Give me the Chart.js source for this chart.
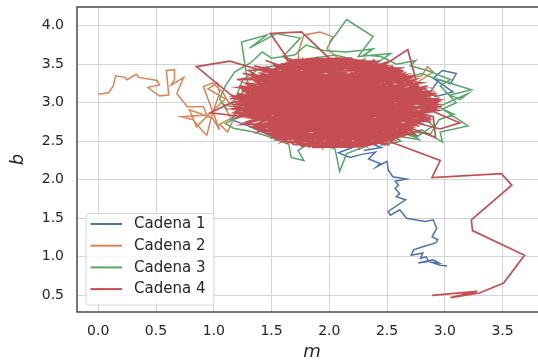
<!DOCTYPE html>
<html>
<head>
<meta charset="utf-8">
<script src="https://cdn.jsdelivr.net/npm/chart.js@4.4.1/dist/chart.umd.min.js"></script>
<style>
  html, body { margin: 0; padding: 0; background: #fff; overflow: hidden; width: 538px; height: 362px; }
  #wrap { width: 550px; height: 362px; }
</style>
</head>
<body>
<div id="wrap"><canvas id="chart" width="550" height="362"></canvas></div>
<script>
// traces: [m, b] per step
const cadena1 = [
  [3.02,0.88],[2.96,0.89],[2.88,0.93],[2.95,0.92],[2.90,0.96],[2.77,0.92],[2.86,0.94],[2.84,1.00],[2.79,0.98],[2.81,1.05],
  [2.71,1.02],[2.73,1.09],[2.81,1.13],[2.92,1.18],[2.94,1.22],[2.89,1.26],[2.93,1.37],[2.90,1.48],[2.83,1.46],[2.67,1.50],
  [2.61,1.61],[2.53,1.54],[2.51,1.59],[2.66,1.74],[2.58,1.78],[2.61,1.82],[2.57,1.89],[2.60,1.93],[2.57,1.98],[2.67,2.01],
  [2.55,2.04],[2.51,2.13],[2.50,2.24],[2.41,2.17],[2.44,2.21],[2.34,2.27],[2.40,2.36],[2.28,2.33],[2.18,2.29],[2.08,2.35],
  [2.20,2.42],[2.32,2.50],[2.25,2.62],[2.40,2.70],[2.55,2.78],[2.62,2.92],[2.75,3.05],[2.88,3.15],[2.95,3.30],[3.05,3.25],
  [3.10,3.38],[2.98,3.42],[2.90,3.32],[3.07,3.14],[2.92,3.08],[2.80,3.20],[2.70,3.10],[2.55,3.05],[2.40,2.95],[2.25,3.00],
  [2.10,2.90],[1.95,2.80],[1.80,2.70],[1.65,2.62],[1.55,2.54],[1.42,2.62],[1.30,2.70],[1.15,2.78],[1.20,2.90],[1.35,3.00],
  [1.50,3.10],[1.65,3.05],[1.80,3.15],[1.95,3.25],[2.10,3.20],[2.25,3.30],[2.40,3.25],[2.55,3.35],[2.45,3.45],[2.30,3.40],
  [2.15,3.50],[2.00,3.42],[1.85,3.35],[1.70,3.28],[1.60,3.15],[1.75,2.95],[1.90,2.90],[2.05,2.75],[2.20,2.60],[2.35,2.48],
  [2.45,2.42],[2.30,2.38]
];
const cadena2 = [
  [0.00,3.11],[0.09,3.13],[0.13,3.22],[0.15,3.35],[0.23,3.33],[0.25,3.30],[0.33,3.37],[0.35,3.33],[0.51,3.29],[0.53,3.23],
  [0.43,3.20],[0.48,3.14],[0.53,3.09],[0.61,3.10],[0.59,3.42],[0.66,3.43],[0.66,3.30],[0.63,3.23],[0.74,3.33],[0.68,3.12],
  [0.77,2.95],[0.91,2.95],[0.94,2.84],[0.72,2.82],[0.82,2.78],[0.91,2.62],[0.94,2.58],[0.98,2.82],[1.03,3.04],[1.05,3.13],
  [1.03,3.26],[0.95,3.18],[1.10,3.05],[0.85,2.69],[0.79,2.91],[0.99,2.80],[1.05,2.65],[0.91,3.21],[0.99,3.26],[1.08,3.13],
  [1.15,2.95],[1.08,2.98],[1.15,2.80],[1.05,2.72],[1.12,2.62],[1.25,3.05],[1.40,2.90],[1.55,3.00],[1.70,3.10],[1.85,3.25],
  [1.75,3.40],[1.73,3.65],[1.78,3.88],[1.92,3.92],[2.03,3.86],[1.98,3.70],[2.10,3.55],[2.30,3.45],[2.50,3.35],[2.65,3.30],
  [2.80,3.35],[2.85,3.47],[2.90,3.40],[2.78,3.28],[2.70,3.10],[2.60,2.95],[2.55,2.80],[2.45,2.62],[2.35,2.52],[2.29,2.58],
  [2.41,2.52],[2.20,2.60],[2.05,2.75],[1.90,2.85],[1.75,2.70],[1.60,2.60],[1.45,2.75],[1.30,2.85],[1.20,3.00],[1.35,3.15],
  [1.50,3.25],[1.65,3.35],[1.80,3.15],[1.95,3.05],[2.10,2.95],[2.25,3.10],[2.40,3.20],[2.55,3.10],[2.70,3.00],[2.85,2.95],
  [2.95,3.05],[2.88,3.20]
];
const cadena3 = [
  [2.00,3.77],[2.15,4.08],[2.38,3.86],[2.25,3.60],[2.53,3.64],[2.35,3.45],[2.60,3.30],[2.80,3.38],[2.95,3.30],[3.23,3.17],
  [3.05,3.10],[3.13,3.04],[3.20,3.12],[2.95,2.95],[3.20,2.70],[2.96,2.62],[2.98,2.49],[2.80,2.65],[2.60,2.55],[2.40,2.48],
  [2.15,2.34],[2.09,2.11],[2.05,2.40],[1.85,2.50],[1.73,2.38],[1.78,2.25],[1.67,2.29],[1.65,2.46],[1.50,2.55],[1.35,2.62],
  [1.17,2.67],[1.10,2.73],[1.25,2.85],[1.15,3.00],[1.30,3.20],[1.24,3.79],[1.46,3.88],[1.31,3.71],[1.54,3.90],[1.75,3.84],
  [1.60,3.60],[1.80,3.50],[2.00,3.20],[2.20,3.00],[2.40,2.85],[2.60,2.75],[2.75,2.90],[2.85,3.10],[2.70,3.25],[2.50,3.15],
  [2.30,3.25],[2.10,3.35],[1.90,3.45],[1.70,3.30],[1.50,3.15],[1.40,2.95],[1.55,2.75],[1.75,2.62],[1.95,2.55],[2.15,2.65],
  [2.35,2.72],[2.55,2.65],[2.75,2.55],[2.90,2.70],[2.65,3.05],[2.45,3.35],[2.25,3.55],[2.05,3.62],[1.85,3.58],[1.60,3.50],
  [1.40,3.45],[1.25,3.30],[1.20,3.10],[1.35,3.05],[1.60,3.00],[1.85,2.95],[2.10,3.05],[2.35,2.95],
  [2.45,2.45],[2.62,2.50],[2.55,2.58],[2.78,2.52],[2.70,2.62],[2.88,2.60],[2.95,2.78],[3.08,2.85],[2.98,2.92],[3.10,3.00],
  [2.96,3.22],[3.05,3.30],[2.85,3.42],[2.70,3.48],[2.75,3.55],[2.58,3.50],[2.45,3.60],[2.30,3.62],[2.38,3.70],[2.15,3.66],
  [1.95,3.68],[1.80,3.75],[1.70,3.62],[1.50,3.58],[1.42,3.66],[1.32,3.52],[1.18,3.40],[1.10,3.22],[1.05,3.05],[1.12,2.90]
];
const cadena4 = [
  [2.89,0.50],[3.28,0.55],[3.05,0.47],[3.30,0.53],[3.51,0.66],[3.69,1.02],[3.24,1.34],[3.23,1.48],[3.58,1.93],[3.49,2.08],
  [2.89,2.03],[2.96,2.25],[2.55,2.48],
  [1.95,3.10],[2.70,2.75],[1.45,3.35],[2.30,2.55],[1.60,3.45],[2.85,3.05],[1.25,2.90],[2.40,3.45],[1.70,2.55],[2.90,2.90],
  [1.30,3.20],[2.15,2.45],[1.85,3.55],[2.65,2.62],[1.20,3.05],[2.50,3.40],[1.50,2.65],[2.80,3.20],[1.40,3.00],[2.05,3.50],
  [2.25,2.50],[1.35,3.30],[2.75,2.85],[1.65,3.50],[1.95,2.45],[2.60,3.35],[1.22,2.85],[2.35,3.05],[1.55,3.40],[2.92,3.00],
  [1.75,2.50],[2.20,3.55],[1.30,2.75],[2.70,3.25],[1.90,2.65],[1.48,3.45],[2.45,2.55],[1.15,3.10],[0.85,3.47],[1.14,3.54],
  [2.85,2.78],[2.00,3.40],[1.62,2.52],[2.55,3.48],[1.40,2.68],[2.88,3.12],[1.70,3.20],[2.30,2.45],[1.28,3.25],[2.62,2.68],
  [1.90,3.58],[2.10,2.55],[1.18,2.95],[2.75,3.30],[2.68,3.69],[1.55,2.58],[2.40,3.25],[1.80,2.45],[2.95,2.95],[1.42,3.38],
  [2.20,2.75],[1.65,3.55],[1.49,3.90],[1.76,3.92],[2.68,2.60],[1.25,3.10],[2.35,3.50],[2.00,2.48],[1.50,3.15],[2.82,3.15],
  [1.35,2.70],[2.15,3.30],[2.58,2.55],[1.75,3.52],[1.20,2.80],[2.45,3.42],[1.85,2.58],[2.90,3.05],[1.45,2.90],[2.05,3.56],
  [2.50,2.50],[1.32,3.35],[2.78,2.70],[1.60,2.95],[2.25,3.48],[1.95,2.42],[2.65,3.38],[1.15,3.00],[0.97,2.87],[2.40,2.62],
  [1.55,3.48],[2.88,2.88],[1.70,2.65],[2.12,3.45],[1.38,2.62],[2.72,3.18],[1.80,3.30],[2.28,2.52],[1.25,3.18],[2.60,2.90],
  [1.90,3.52],[1.50,2.55],[2.85,3.22],[1.65,2.80],[2.38,3.55],[2.08,2.45],[1.28,2.92],[2.55,3.30],[1.75,2.48],[2.95,3.02],
  [1.45,3.42],[2.18,2.62],[1.62,3.58],[2.70,2.65],[1.20,3.08],[2.30,3.38],[1.88,2.50],[2.80,2.95],[3.13,2.74],[2.96,2.66],
  [1.35,3.28],[2.45,2.48],[1.72,3.40],[2.62,3.45],[1.40,2.75],[2.10,3.15],[2.90,2.82],[2.92,2.55],[1.58,3.30],[2.25,2.42],
  [1.95,3.55],[2.75,2.58],[1.18,2.88],[2.48,3.52],[1.68,2.58],[2.85,3.10],[1.30,3.05],[2.20,3.42],[2.00,2.55],[1.52,3.50],
  [2.65,2.78],[1.25,2.72],[2.40,3.15],[1.82,2.42],[2.72,3.35],[1.42,3.12],[2.15,2.50],[1.78,3.56],[2.58,2.62],[1.22,3.22],
  [2.92,2.92],[1.60,2.68],[2.32,3.55],[1.90,2.80],[2.52,2.45],[1.48,3.25],[2.78,3.05],[1.35,2.85],[2.05,3.48],[2.35,2.70],
  [1.70,3.05],[2.88,2.75],[1.55,3.38],[2.18,2.48],[1.98,3.32],[2.60,3.20],[1.28,2.98],[2.45,2.85],[1.85,3.45],[2.12,2.68],
  [1.45,2.62],[2.70,2.92],[1.65,3.42],[2.30,3.00],[1.95,2.62],[2.55,3.40],[1.35,3.15],[2.22,2.90],
  [1.18,3.02],[2.88,3.08],[1.32,3.22],[2.62,2.58],[1.55,2.52],[2.78,3.22],[1.26,2.82],[2.50,3.48],[1.62,3.50],[2.92,2.96],
  [1.42,2.62],[2.70,2.68],[1.20,3.12],[2.84,2.84],[1.48,3.40],[2.40,2.46],[1.74,2.46],[2.58,3.42],[1.30,2.76],[2.95,3.04],
  [1.38,3.32],[2.66,2.63],[1.16,2.92],[2.80,3.26],[1.58,3.47],[2.35,3.53],[1.68,2.48],[2.86,2.78],[1.24,3.16],[2.52,2.52],
  [1.50,2.58],[2.74,3.30],[1.22,2.96],[2.45,3.46],[1.85,3.57],[2.28,2.44],[1.35,2.68],[2.90,3.12],[1.45,3.36],[2.76,2.72],
  [1.55,3.46],[2.30,3.55],[1.70,3.56],[2.50,3.49],[1.62,3.52],[2.40,3.54],[1.48,3.43],[2.20,3.58],[1.80,3.57],[2.58,3.45],
  [1.58,3.50],[2.10,3.58],[1.42,3.40],[2.62,3.42],
  [1.14,3.05],[2.60,3.38],[1.66,3.52],[2.20,3.56],[1.52,2.55],[2.68,2.60],[1.28,3.26],[2.93,2.90],[1.36,2.72],[2.56,3.44],
  [1.60,2.50],[2.82,3.18],[1.20,2.86],[2.48,2.49],[1.78,2.44],[2.72,3.34],[1.40,3.34],[2.88,2.80],[1.25,3.08],[2.38,3.50],
  [1.56,3.45],[2.64,2.56],[1.33,2.80],[2.85,3.00],[1.46,3.30],[2.54,2.50],[1.70,3.54],[2.79,2.74],[1.19,2.98],[2.66,3.36],
  [1.44,2.64],[2.90,3.02],[1.30,3.18],[2.42,3.54],[1.64,2.48],[2.80,2.86],[1.52,3.42],[2.58,2.54],[1.23,2.90],[2.76,3.24],
  [1.60,2.50],[2.40,2.47],[1.75,2.44],[2.55,2.51],[1.52,2.56],[2.30,2.43],[1.85,2.42],[2.65,2.57],[1.45,2.60],[2.20,2.42],
  [1.68,2.46],[2.48,2.48],[1.40,2.64],[2.70,2.60],
  [1.90,2.42],[2.30,3.56],[1.42,2.70],[2.86,3.14],[1.58,3.38],[2.70,2.64],[1.17,3.08],[2.62,3.40],[1.80,3.56],[2.46,2.47],
  [1.34,3.30],[2.94,2.98],[1.50,2.60],[2.74,2.70],[1.27,2.84],[2.52,3.46],[1.62,3.48],[2.84,3.06],[1.38,2.66],[2.36,2.45],
  [1.72,2.47],[2.68,3.32],[1.21,3.20],[2.82,2.80],[1.48,3.44],[2.56,2.52],[1.31,2.94],[2.90,3.10],[1.66,3.55],[2.44,3.50],
  [1.55,2.54],[2.78,2.76],[1.26,3.04],[2.64,3.42],[1.40,2.74],[2.24,2.43],[1.86,2.44],[2.72,3.28],[1.36,3.36],[2.92,2.94],
  [1.25,3.38],[2.20,3.20],[1.35,3.48],[2.50,3.00],[1.45,3.55],[1.90,3.30],[1.20,3.30],[2.30,3.50],[1.30,3.42],[2.00,2.80]
];

const chains = [cadena1, cadena2, cadena3, cadena4];
const chainLabels = ['Cadena 1', 'Cadena 2', 'Cadena 3', 'Cadena 4'];
const chainColors = ['#4C72B0', '#DD8452', '#55A868', '#C44E52'];
const chainWidths = [1.5, 1.5, 1.5, 1.7];
const xTicks = [0, 0.5, 1, 1.5, 2, 2.5, 3, 3.5];
const yTicks = [0.5, 1, 1.5, 2, 2.5, 3, 3.5, 4];

const ink = '#262626';
const tickFont = { family: 'DejaVu Sans', size: 14 };
const titleFont = { family: 'DejaVu Sans', size: 18, style: 'italic', lineHeight: 1 };

// box round the axes and the legend inside, lower left
const frameAndLegend = {
  id: 'frameAndLegend',
  afterDraw(chart) {
    const { ctx, chartArea: a } = chart;
    ctx.save();
    ctx.strokeStyle = ink;
    ctx.lineWidth = 1.25;
    ctx.strokeRect(a.left, a.top, a.right - a.left, a.bottom - a.top);

    const bw = 128, bh = 91.5, bx = a.left + 9, by = a.bottom - 7 - bh;
    ctx.beginPath();
    ctx.roundRect(bx, by, bw, bh, 3);
    ctx.fillStyle = 'rgba(255,255,255,0.8)';
    ctx.fill();
    ctx.strokeStyle = '#d8d8d8';
    ctx.lineWidth = 1;
    ctx.stroke();

    ctx.font = '15px "DejaVu Sans"';
    ctx.textBaseline = 'middle';
    chainLabels.forEach((lab, i) => {
      const y = by + 10.5 + i * 21.7;
      ctx.strokeStyle = chainColors[i];
      ctx.lineWidth = 2;
      ctx.beginPath();
      ctx.moveTo(bx + 4.5, y);
      ctx.lineTo(bx + 36, y);
      ctx.stroke();
      ctx.fillStyle = ink;
      ctx.fillText(lab, bx + 48, y + 0.5);
    });
    ctx.restore();
  }
};

new Chart(document.getElementById('chart'), {
  type: 'scatter',
  data: {
    datasets: chains.map((pts, i) => ({
      label: chainLabels[i],
      data: pts.map(p => ({ x: p[0], y: p[1] })),
      borderColor: chainColors[i],
      borderWidth: chainWidths[i],
      showLine: true,
      pointRadius: 0,
      tension: 0,
      fill: false,
      order: chains.length - i
    }))
  },
  options: {
    responsive: false,
    animation: false,
    devicePixelRatio: 1,
    layout: { padding: { left: 0, top: 7, right: 3, bottom: 1 } },
    plugins: { legend: { display: false }, tooltip: { enabled: false } },
    scales: {
      x: {
        type: 'linear', min: -0.184, max: 3.885,
        afterBuildTicks: s => { s.ticks = xTicks.map(v => ({ value: v })); },
        afterFit: s => { s.height = 49; s.paddingLeft = 0; s.paddingRight = 0; },
        ticks: { font: tickFont, color: ink, padding: 11, maxRotation: 0, autoSkip: false, callback: v => v.toFixed(1) },
        grid: { color: '#d4d4d4', lineWidth: 1, drawTicks: false },
        border: { display: false },
        title: { display: true, text: 'm', font: titleFont, color: ink, padding: { top: 0, bottom: 0 } }
      },
      y: {
        type: 'linear', min: 0.283, max: 4.244,
        afterBuildTicks: s => { s.ticks = yTicks.map(v => ({ value: v })); },
        afterFit: s => { s.width = 77; s.paddingTop = 0; s.paddingBottom = 0; },
        ticks: { font: tickFont, color: ink, padding: 13, autoSkip: false, callback: v => v.toFixed(1) },
        grid: { color: '#d4d4d4', lineWidth: 1, drawTicks: false },
        border: { display: false },
        title: { display: true, text: 'b', font: titleFont, color: ink, padding: { top: 9.5, bottom: 0 } }
      }
    }
  },
  plugins: [frameAndLegend]
});
</script>
</body>
</html>
